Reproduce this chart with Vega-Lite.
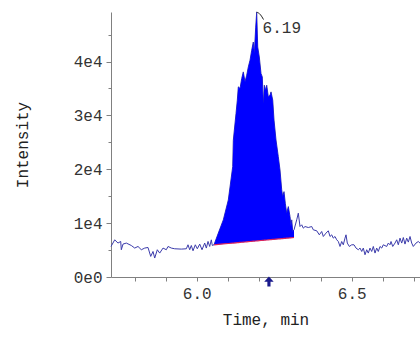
{
  "$schema": "https://vega.github.io/schema/vega-lite/v6.json",
  "width": 309,
  "height": 265,
  "autosize": {"type": "none"},
  "padding": {"left": 111, "top": 12, "right": 0, "bottom": 60},
  "background": "white",
  "config": {"view": {"stroke": null}, "font": "Liberation Mono"},
  "datasets": {
    "trace": [
      {"t": 5.7235, "v": 5670}, {"t": 5.7355, "v": 6900}, {"t": 5.7461, "v": 6300}, {"t": 5.7548, "v": 6600},
      {"t": 5.7568, "v": 5060}, {"t": 5.7623, "v": 6110}, {"t": 5.7729, "v": 6300}, {"t": 5.789, "v": 5850},
      {"t": 5.8, "v": 5370}, {"t": 5.8106, "v": 5670}, {"t": 5.8213, "v": 5060}, {"t": 5.8323, "v": 5370},
      {"t": 5.8429, "v": 5480}, {"t": 5.8516, "v": 3820}, {"t": 5.859, "v": 4740}, {"t": 5.8645, "v": 3520},
      {"t": 5.8729, "v": 5060}, {"t": 5.8806, "v": 4440}, {"t": 5.8913, "v": 5370}, {"t": 5.9019, "v": 5060},
      {"t": 5.9074, "v": 5670}, {"t": 5.9181, "v": 5370}, {"t": 5.929, "v": 5240}, {"t": 5.9503, "v": 5180},
      {"t": 5.9665, "v": 5240}, {"t": 5.9719, "v": 5980}, {"t": 5.9774, "v": 5060}, {"t": 5.9826, "v": 5850},
      {"t": 5.9881, "v": 4870}, {"t": 5.9955, "v": 5980}, {"t": 6.0019, "v": 5240}, {"t": 6.0097, "v": 6110},
      {"t": 6.0171, "v": 5060}, {"t": 6.0258, "v": 6300}, {"t": 6.031, "v": 5370}, {"t": 6.0365, "v": 6600},
      {"t": 6.0419, "v": 5670}, {"t": 6.0471, "v": 6900}, {"t": 6.0503, "v": 5850},
      {"t": 6.0558, "v": 5980, "b": 5980}, {"t": 6.0697, "v": 8150, "b": 6053}, {"t": 6.0858, "v": 10600, "b": 6137},
      {"t": 6.1019, "v": 14300, "b": 6221}, {"t": 6.1161, "v": 20480, "b": 6295}, {"t": 6.1181, "v": 25400, "b": 6306},
      {"t": 6.1268, "v": 30370, "b": 6351}, {"t": 6.131, "v": 32840, "b": 6373}, {"t": 6.1342, "v": 35300, "b": 6390},
      {"t": 6.1397, "v": 35000, "b": 6419}, {"t": 6.1452, "v": 36860, "b": 6448}, {"t": 6.1503, "v": 38080, "b": 6474},
      {"t": 6.1558, "v": 36230, "b": 6503}, {"t": 6.1613, "v": 37470, "b": 6532}, {"t": 6.1665, "v": 39000, "b": 6559},
      {"t": 6.1719, "v": 40240, "b": 6587}, {"t": 6.1774, "v": 42100, "b": 6616}, {"t": 6.1826, "v": 43630, "b": 6643},
      {"t": 6.1858, "v": 41480, "b": 6660}, {"t": 6.1903, "v": 46400, "b": 6683}, {"t": 6.1935, "v": 49190, "b": 6700},
      {"t": 6.1968, "v": 42700, "b": 6717}, {"t": 6.2019, "v": 40850, "b": 6744}, {"t": 6.2074, "v": 37780, "b": 6773},
      {"t": 6.2116, "v": 37150, "b": 6795}, {"t": 6.2148, "v": 32220, "b": 6812}, {"t": 6.2181, "v": 35610, "b": 6829},
      {"t": 6.2226, "v": 34690, "b": 6852}, {"t": 6.2258, "v": 35610, "b": 6869}, {"t": 6.231, "v": 33450, "b": 6896},
      {"t": 6.2365, "v": 33760, "b": 6925}, {"t": 6.2397, "v": 34370, "b": 6942}, {"t": 6.2452, "v": 32840, "b": 6971},
      {"t": 6.2494, "v": 29130, "b": 6993}, {"t": 6.2558, "v": 25430, "b": 7026}, {"t": 6.2632, "v": 22330, "b": 7065},
      {"t": 6.2687, "v": 19870, "b": 7093}, {"t": 6.2742, "v": 16170, "b": 7122}, {"t": 6.2774, "v": 14930, "b": 7139},
      {"t": 6.2816, "v": 15850, "b": 7161}, {"t": 6.2858, "v": 13700, "b": 7183}, {"t": 6.2903, "v": 11850, "b": 7206},
      {"t": 6.2955, "v": 13070, "b": 7234}, {"t": 6.301, "v": 11220, "b": 7262}, {"t": 6.3042, "v": 9370, "b": 7279},
      {"t": 6.3065, "v": 10610, "b": 7291}, {"t": 6.3097, "v": 8450, "b": 7308}, {"t": 6.3139, "v": 8760, "b": 7330},
      {"t": 6.3226, "v": 10610}, {"t": 6.3277, "v": 11850}, {"t": 6.3332, "v": 9370}, {"t": 6.3387, "v": 9690},
      {"t": 6.3439, "v": 9070}, {"t": 6.3494, "v": 9370}, {"t": 6.36, "v": 9190}, {"t": 6.371, "v": 9370},
      {"t": 6.3761, "v": 8760}, {"t": 6.3871, "v": 8580}, {"t": 6.3955, "v": 7830}, {"t": 6.4032, "v": 8450},
      {"t": 6.4084, "v": 7520}, {"t": 6.4171, "v": 8150}, {"t": 6.4245, "v": 8580}, {"t": 6.43, "v": 7520},
      {"t": 6.4355, "v": 7830}, {"t": 6.4406, "v": 7220}, {"t": 6.4461, "v": 7520}, {"t": 6.4516, "v": 6910},
      {"t": 6.4568, "v": 6590}, {"t": 6.4623, "v": 5670}, {"t": 6.4677, "v": 6590}, {"t": 6.4729, "v": 5980},
      {"t": 6.4784, "v": 7220}, {"t": 6.4816, "v": 7830}, {"t": 6.4858, "v": 6300}, {"t": 6.4923, "v": 5670},
      {"t": 6.5, "v": 5980}, {"t": 6.5074, "v": 5980}, {"t": 6.5139, "v": 5370}, {"t": 6.5213, "v": 5060},
      {"t": 6.5268, "v": 5370}, {"t": 6.5323, "v": 4740}, {"t": 6.5374, "v": 5370}, {"t": 6.5429, "v": 4130},
      {"t": 6.5484, "v": 5060}, {"t": 6.5535, "v": 4440}, {"t": 6.559, "v": 5370}, {"t": 6.5645, "v": 4740},
      {"t": 6.5697, "v": 5670}, {"t": 6.5752, "v": 4440}, {"t": 6.5806, "v": 5370}, {"t": 6.5858, "v": 4740},
      {"t": 6.5913, "v": 5670}, {"t": 6.5968, "v": 5370}, {"t": 6.6019, "v": 5980}, {"t": 6.6129, "v": 5670},
      {"t": 6.6181, "v": 6300}, {"t": 6.6235, "v": 5980}, {"t": 6.6268, "v": 6590}, {"t": 6.6323, "v": 5670},
      {"t": 6.6397, "v": 6300}, {"t": 6.6452, "v": 6910}, {"t": 6.6503, "v": 5980}, {"t": 6.6558, "v": 7220},
      {"t": 6.6613, "v": 6300}, {"t": 6.6665, "v": 7330}, {"t": 6.6719, "v": 6110}, {"t": 6.6774, "v": 7220},
      {"t": 6.6826, "v": 6480}, {"t": 6.6881, "v": 7520}, {"t": 6.6935, "v": 6300}, {"t": 6.6987, "v": 5670},
      {"t": 6.7074, "v": 6300}, {"t": 6.7148, "v": 6590}, {"t": 6.7203, "v": 6300}
    ],
    "flag": [{"t": 6.1935, "v": 49190}, {"t": 6.2056, "v": 48700}, {"t": 6.2155, "v": 47800}],
    "label": [{"t": 6.2125, "v": 46200, "text": "6.19"}],
    "marker": [{"t": 6.233, "v": -900}]
  },
  "encoding": {
    "x": {
      "field": "t", "type": "quantitative",
      "scale": {"domain": [5.7235, 6.7203], "nice": false, "zero": false},
      "axis": {
        "values": [5.8, 5.9, 6.0, 6.1, 6.2, 6.3, 6.4, 6.5, 6.6, 6.7],
        "labelExpr": "abs(datum.value-6)<0.001 ? '6.0' : (abs(datum.value-6.5)<0.001 ? '6.5' : '')",
        "title": "Time, min",
        "grid": false, "tickSize": 4, "labelPadding": 4, "titlePadding": 10,
        "labelFontSize": 16, "titleFontSize": 16, "titleFontWeight": "normal",
        "labelColor": "#333333", "titleColor": "#222222",
        "domainColor": "#808080", "tickColor": "#808080",
        "labelOverlap": false, "labelFlush": false
      }
    },
    "y": {
      "field": "v", "type": "quantitative",
      "scale": {"domain": [0, 49200], "nice": false},
      "axis": {
        "values": [0, 5000, 10000, 15000, 20000, 25000, 30000, 35000, 40000, 45000],
        "labelExpr": "datum.value % 10000 == 0 ? (datum.value == 0 ? '0e0' : (datum.value/10000) + 'e4') : ''",
        "title": "Intensity",
        "grid": false,
        "tickSize": {"condition": {"test": "datum.value % 10000 == 0", "value": 5}, "value": 3},
        "labelPadding": 4, "titlePadding": 43,
        "labelFontSize": 16, "titleFontSize": 16, "titleFontWeight": "normal",
        "labelColor": "#333333", "titleColor": "#222222",
        "domainColor": "#808080", "tickColor": "#808080",
        "labelOverlap": false
      }
    }
  },
  "layer": [
    {
      "data": {"name": "trace"},
      "mark": {"type": "line", "color": "#3b3bab", "strokeWidth": 1},
      "encoding": {}
    },
    {
      "data": {"name": "trace"},
      "transform": [{"filter": "isValid(datum.b)"}],
      "mark": {"type": "area", "color": "#0000ff", "opacity": 1},
      "encoding": {"y2": {"field": "b"}}
    },
    {
      "data": {"name": "trace"},
      "transform": [{"filter": "isValid(datum.b)"}],
      "mark": {"type": "line", "color": "#d8245e", "strokeWidth": 1.2},
      "encoding": {"y": {"field": "b", "type": "quantitative"}}
    },
    {
      "data": {"name": "flag"},
      "mark": {"type": "line", "color": "#222222", "strokeWidth": 1, "interpolate": "monotone"},
      "encoding": {}
    },
    {
      "data": {"name": "label"},
      "mark": {"type": "text", "align": "left", "baseline": "middle", "fontSize": 16, "color": "#333333", "font": "Liberation Mono"},
      "encoding": {"text": {"field": "text"}}
    },
    {
      "data": {"name": "marker"},
      "mark": {"type": "point", "filled": true, "color": "#1a1a8c", "opacity": 1, "size": 110, "shape": "M0,-1L0.9,0L0.3,0L0.3,0.9L-0.3,0.9L-0.3,0L-0.9,0Z"},
      "encoding": {}
    }
  ]
}
